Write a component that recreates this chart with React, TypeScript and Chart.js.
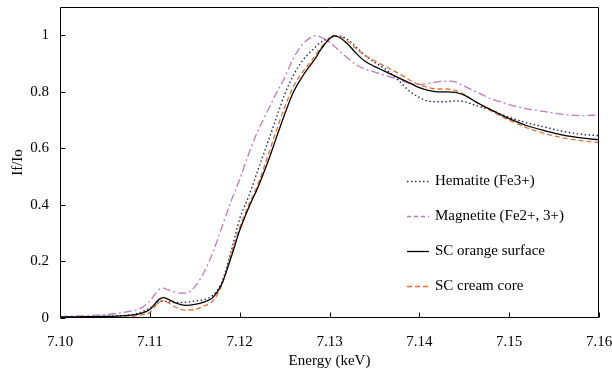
import React, { useEffect, useRef } from "react";
import { Chart, registerables } from "chart.js";

Chart.register(...registerables);

// ---- data ----
const energy = [
  7.100, 7.102, 7.104, 7.106, 7.108,
  7.109, 7.110, 7.111, 7.1115, 7.112,
  7.113, 7.114, 7.115, 7.116, 7.117, 7.118, 7.119, 7.120, 7.121, 7.122, 7.123, 7.124, 7.125, 7.126, 7.127, 7.128,
  7.1285,
  7.129, 7.130,
  7.1305,
  7.131, 7.132, 7.133, 7.134, 7.135, 7.136, 7.137, 7.138, 7.139, 7.140, 7.141, 7.142, 7.143, 7.144, 7.145, 7.146, 7.147, 7.148, 7.149, 7.150,
  7.152, 7.154, 7.156, 7.158, 7.160,
];

const hematite = [
  0.003, 0.004, 0.005, 0.007, 0.012,
  0.02, 0.035, 0.055, 0.06, 0.058,
  0.055, 0.056, 0.06, 0.065, 0.08, 0.125, 0.23, 0.35, 0.43, 0.52, 0.61, 0.70, 0.79, 0.86, 0.91, 0.945,
  0.96,
  0.975, 0.99,
  0.996,
  0.998, 0.985, 0.957, 0.928, 0.905, 0.885, 0.86, 0.83, 0.80, 0.78, 0.767, 0.765, 0.765, 0.768, 0.765, 0.755, 0.745, 0.735, 0.722, 0.71,
  0.69, 0.675, 0.66, 0.65, 0.645,
];

const magnetite = [
  0.005, 0.007, 0.01, 0.015, 0.025,
  0.035, 0.06, 0.1, 0.106, 0.1,
  0.09, 0.088, 0.11, 0.16, 0.23, 0.32, 0.41, 0.49, 0.58, 0.66, 0.725, 0.79, 0.85, 0.92, 0.968, 0.994,
  0.999,
  0.994, 0.975,
  0.962,
  0.948, 0.92, 0.895, 0.88, 0.87, 0.86, 0.85, 0.84, 0.83, 0.826, 0.83, 0.835, 0.838, 0.835, 0.82, 0.805, 0.79, 0.775, 0.765, 0.755,
  0.74, 0.73, 0.72, 0.716, 0.718,
];

const orangeSurface = [
  0.003, 0.004, 0.005, 0.006, 0.01,
  0.016, 0.03, 0.065, 0.072, 0.067,
  0.052, 0.045, 0.048, 0.056, 0.072, 0.12, 0.21, 0.31, 0.39, 0.46, 0.54, 0.63, 0.72, 0.80, 0.855, 0.90,
  0.922,
  0.948, 0.988,
  0.998,
  0.994, 0.97, 0.935, 0.907, 0.89, 0.875, 0.86, 0.845, 0.83, 0.815, 0.805, 0.80, 0.80, 0.798, 0.788, 0.77, 0.752, 0.736, 0.72, 0.705,
  0.68, 0.662, 0.647, 0.637, 0.63,
];

const creamCore = [
  0.0, 0.0, 0.001, 0.002, 0.005,
  0.01, 0.02, 0.055, 0.062, 0.055,
  0.036, 0.028, 0.03, 0.042, 0.06, 0.115, 0.22, 0.32, 0.40, 0.47, 0.56, 0.655, 0.745, 0.82, 0.87, 0.91,
  0.932,
  0.955, 0.99,
  0.999,
  0.996, 0.98, 0.952, 0.928, 0.91, 0.893, 0.877, 0.86, 0.84, 0.825, 0.815, 0.81, 0.81, 0.805, 0.79, 0.77, 0.75, 0.732, 0.715, 0.70,
  0.672, 0.652, 0.637, 0.627, 0.62,
];

const seriesLabels = ["Hematite (Fe3+)", "Magnetite (Fe2+, 3+)", "SC orange surface", "SC cream core"];
const xTicks = [7.10, 7.11, 7.12, 7.13, 7.14, 7.15, 7.16];
const yTicks = [0, 0.2, 0.4, 0.6, 0.8, 1];
const xTitle = "Energy (keV)";
const yTitle = "If/Io";

const FONT_FAMILY = "'Liberation Serif', 'Times New Roman', serif";

const framePlugin = {
  id: "frameTicks",
  afterDatasetsDraw(chart: any) {
    const { ctx, chartArea: a, scales } = chart;
    ctx.save();
    ctx.strokeStyle = "#000";
    ctx.lineWidth = 1;
    const l = Math.round(a.left) + 0.5;
    const r = Math.round(a.right) - 0.5;
    const t = Math.round(a.top) + 0.5;
    const b = Math.round(a.bottom) - 0.5;
    ctx.beginPath();
    ctx.rect(l, t, r - l, b - t);
    ctx.stroke();
    ctx.beginPath();
    for (const v of xTicks) {
      const px = Math.round(scales.x.getPixelForValue(v)) + 0.5;
      ctx.moveTo(px, b);
      ctx.lineTo(px, b - 5);
    }
    for (const v of yTicks) {
      const py = Math.round(scales.y.getPixelForValue(v)) + 0.5;
      ctx.moveTo(l, py);
      ctx.lineTo(l + 5, py);
    }
    ctx.stroke();
    ctx.restore();
  },
};

const legendPlugin = {
  id: "insideLegend",
  afterDraw(chart: any) {
    const { ctx, chartArea: a } = chart;
    const x0 = a.left + 347;
    const y0 = a.top + 174;
    const step = 35;
    ctx.save();
    ctx.font = `15px ${FONT_FAMILY}`;
    ctx.textBaseline = "middle";
    ctx.textAlign = "left";
    chart.data.datasets.forEach((ds: any, i: number) => {
      const y = Math.round(y0 + i * step) + 0.5;
      ctx.strokeStyle = ds.borderColor;
      ctx.lineWidth = ds.borderWidth;
      ctx.setLineDash(ds.legendDash || ds.borderDash || []);
      ctx.beginPath();
      ctx.moveTo(x0, y);
      ctx.lineTo(x0 + 22, y);
      ctx.stroke();
      ctx.setLineDash([]);
      ctx.fillStyle = "#000";
      ctx.fillText(ds.label, x0 + 28, y);
    });
    ctx.restore();
  },
};

export default function App() {
  const ref = useRef<HTMLCanvasElement | null>(null);

  useEffect(() => {
    if (!ref.current) return;
    const pts = (arr: number[]) => energy.map((e, i) => ({ x: e, y: arr[i] }));
    const font = { family: FONT_FAMILY, size: 15 };
    const chart = new Chart(ref.current, {
      type: "line",
      data: {
        datasets: [
          {
            label: seriesLabels[0],
            data: pts(hematite),
            borderColor: "#1f2a6b",
            borderWidth: 1.4,
            borderDash: [1.5, 2.5],
            order: 2,
          },
          {
            label: seriesLabels[1],
            data: pts(magnetite),
            borderColor: "#c777c4",
            borderWidth: 1.3,
            borderDash: [8, 3, 2, 3],
            legendDash: [4, 3],
            order: 3,
          },
          {
            label: seriesLabels[2],
            data: pts(orangeSurface),
            borderColor: "#000000",
            borderWidth: 1.3,
            borderDash: [],
            order: 0,
          },
          {
            label: seriesLabels[3],
            data: pts(creamCore),
            borderColor: "#e8712e",
            borderWidth: 1.3,
            borderDash: [5, 3],
            order: 1,
          },
        ] as any,
      },
      options: {
        responsive: false,
        animation: false,
        layout: { padding: { top: 7, right: 13, left: 0, bottom: 0 } },
        plugins: { legend: { display: false }, tooltip: { enabled: false } },
        elements: {
          point: { radius: 0 },
          line: { cubicInterpolationMode: "monotone", fill: false },
        },
        scales: {
          x: {
            type: "linear",
            min: 7.1,
            max: 7.16,
            afterBuildTicks: (s: any) => {
              s.ticks = xTicks.map((v) => ({ value: v }));
            },
            afterFit: (s: any) => {
              s.height = 54;
              s.paddingLeft = 0;
              s.paddingRight = 0;
            },
            grid: { display: false, drawTicks: false },
            border: { display: false },
            ticks: {
              font,
              color: "#000",
              padding: 15,
              maxRotation: 0,
              autoSkip: false,
              callback: (v: any) => Number(v).toFixed(2),
            },
            title: {
              display: true,
              text: xTitle,
              font,
              color: "#000",
              padding: { top: 0, bottom: 2 },
            },
          },
          y: {
            type: "linear",
            min: 0,
            max: 1.1,
            afterBuildTicks: (s: any) => {
              s.ticks = yTicks.map((v) => ({ value: v }));
            },
            afterFit: (s: any) => {
              s.width = 60;
              s.paddingTop = 0;
              s.paddingBottom = 0;
            },
            grid: { display: false, drawTicks: false },
            border: { display: false },
            ticks: {
              font,
              color: "#000",
              padding: 11,
              autoSkip: false,
              callback: (v: any) => String(Math.round(Number(v) * 10) / 10),
            },
            title: {
              display: true,
              text: yTitle,
              font,
              color: "#000",
              padding: { top: 9, bottom: 0 },
            },
          },
        },
      } as any,
      plugins: [framePlugin, legendPlugin],
    });
    return () => chart.destroy();
  }, []);

  return (
    <div style={{ position: "absolute", left: 0, top: 0, width: 612, height: 372, background: "#fff" }}>
      <canvas ref={ref} width={612} height={372} style={{ display: "block" }} />
    </div>
  );
}
